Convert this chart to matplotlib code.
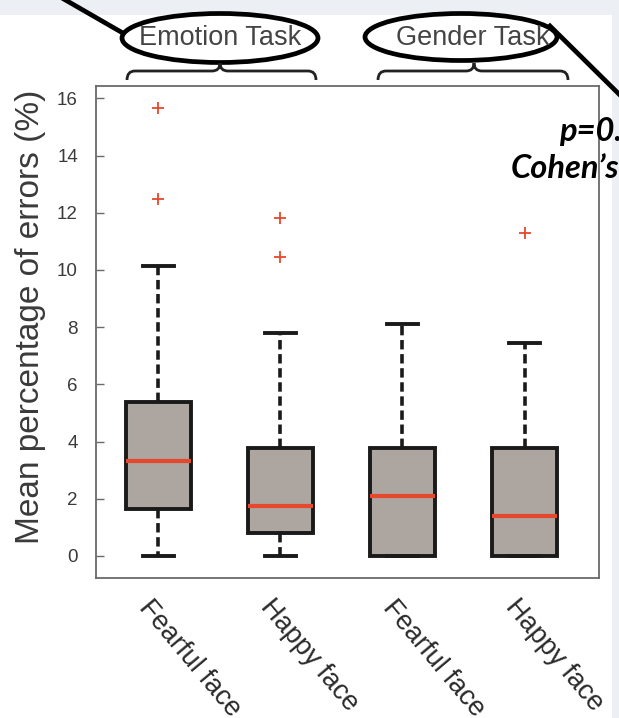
import matplotlib
matplotlib.use("Agg")
import matplotlib.pyplot as plt
from matplotlib.patches import Ellipse, Rectangle, PathPatch
from matplotlib.path import Path
from matplotlib.lines import Line2D
import matplotlib.transforms as mtransforms

# ---------------- data ----------------
categories = ["Fearful face", "Happy face", "Fearful face", "Happy face"]
q1 = [1.64, 0.80, 0.0, 0.0]
medians = [3.32, 1.75, 2.10, 1.40]
q3 = [5.38, 3.78, 3.78, 3.78]
whisker_low = [0.0, 0.0, 0.0, 0.0]
whisker_high = [10.15, 7.80, 8.10, 7.45]
outliers = [[15.66, 12.48], [11.82, 10.45], [], [11.30]]
group_labels = ["Emotion Task", "Gender Task"]
yticks = [0, 2, 4, 6, 8, 10, 12, 14, 16]
stat_texts = ["p=0.", "Cohen\u2019s"]

W, H = 619, 718
fig = plt.figure(figsize=(W / 100, H / 100), dpi=100)
fig.patch.set_facecolor("#eceff3")

def fx(x):
    return x / W

def fy(y):
    return 1 - y / H

# white slide panel
fig.patches.append(Rectangle((0, 0), fx(612), fy(15), transform=fig.transFigure,
                             facecolor="white", edgecolor="none", zorder=-5))

ax = fig.add_axes([fx(96), fy(578), fx(599) - fx(96), fy(86) - fy(578)])
ax.set_zorder(1)
ax.set_facecolor("white")

stats = []
for i in range(len(categories)):
    stats.append(dict(med=medians[i], q1=q1[i], q3=q3[i],
                      whislo=whisker_low[i], whishi=whisker_high[i],
                      fliers=outliers[i], label=categories[i]))

red = "#e6482d"
ax.bxp(stats, positions=[1, 2, 3, 4], widths=0.53, patch_artist=True,
       capwidths=0.25,
       boxprops=dict(facecolor="#aca5a0", edgecolor="#1a1a1a", linewidth=2.8),
       medianprops=dict(color=red, linewidth=3),
       whiskerprops=dict(color="#1a1a1a", linewidth=2.6, linestyle=(0, (2.6, 1.3))),
       capprops=dict(color="#1a1a1a", linewidth=2.8),
       flierprops=dict(marker="+", markeredgecolor=red, markersize=8, markeredgewidth=1.3))

ax.set_xlim(0.49, 4.61)
ax.set_ylim(-0.77, 16.43)
ax.set_yticks(yticks)
ax.set_yticklabels([str(t) for t in yticks])
for s in ax.spines.values():
    s.set_color("#6a6a6a")
    s.set_linewidth(1.3)
ax.tick_params(axis="y", direction="in", length=6, width=1, color="#6a6a6a",
               labelsize=13.5, labelcolor="#3a3a3a", pad=13)
ax.tick_params(axis="x", length=0, labelsize=19.5, labelcolor="#2a2a2a", pad=12)
for lab in ax.get_yticklabels():
    lab.set_fontfamily("Liberation Sans")
ax.set_xticks([1, 2, 3, 4])
ax.set_xticklabels(categories, rotation=-50, ha="left", va="top",
                   rotation_mode="anchor", fontfamily="Liberation Sans")
offset = mtransforms.ScaledTranslation(-5 / 100, 0, fig.dpi_scale_trans)
for lab in ax.get_xticklabels():
    lab.set_transform(lab.get_transform() + offset)

ax.set_ylabel("Mean percentage of errors (%)", fontsize=24, color="#3a3a3a",
              fontfamily="Liberation Sans")
ax.yaxis.set_label_coords(-0.099, 0.53)

# ---------------- annotations ----------------
lw_annot = 3.4
fig.add_artist(Line2D([fx(62), fx(128)], [fy(-2), fy(36)], transform=fig.transFigure,
                      color="black", linewidth=lw_annot, zorder=5))
fig.add_artist(Line2D([fx(550), fx(625)], [fy(26), fy(100)], transform=fig.transFigure,
                      color="black", linewidth=lw_annot, zorder=5))

ell_centers = [(220, 38), (461, 37)]
ell_sizes = [(196, 49), (192, 47)]
text_centers = [(220, 38), (473, 38)]
for (cx, cy), (ew, eh), (tx, ty), lab in zip(ell_centers, ell_sizes, text_centers, group_labels):
    fig.patches.append(Ellipse((fx(cx), fy(cy)), fx(ew), eh / H, transform=fig.transFigure,
                               facecolor="white", edgecolor="black", linewidth=lw_annot, zorder=6))
    fig.text(fx(tx), fy(ty), lab, ha="center", va="center", fontsize=19.5,
             color="#444444", fontfamily="Liberation Sans", zorder=7)

def brace(x0, x1, xc, ytop, ybot, ypeak):
    r = 8
    verts = [(x0, ybot), (x0, ytop), (x0 + r, ytop),
             (xc - r, ytop), (xc, ytop), (xc, ypeak),
             (xc, ytop), (xc + r, ytop),
             (x1 - r, ytop), (x1, ytop), (x1, ybot)]
    codes = [Path.MOVETO, Path.CURVE3, Path.CURVE3,
             Path.LINETO, Path.CURVE3, Path.CURVE3,
             Path.CURVE3, Path.CURVE3,
             Path.LINETO, Path.CURVE3, Path.CURVE3]
    v = [(fx(a), fy(b)) for a, b in verts]
    return PathPatch(Path(v, codes), transform=fig.transFigure, facecolor="none",
                     edgecolor="#222222", linewidth=2.0, zorder=6)

fig.patches.append(brace(127, 316, 220, 71, 80, 63))
fig.patches.append(brace(378, 568, 474, 71, 80, 63))

fig.text(fx(559), fy(131), stat_texts[0], ha="left", va="center", fontsize=23.5,
         fontweight="bold", fontstyle="italic", fontfamily="Lato", color="black", zorder=8)
fig.text(fx(511), fy(168), stat_texts[1], ha="left", va="center", fontsize=23.5,
         fontweight="bold", fontstyle="italic", fontfamily="Lato", color="black", zorder=8)

fig.savefig("out.png", dpi=100, facecolor=fig.get_facecolor())
